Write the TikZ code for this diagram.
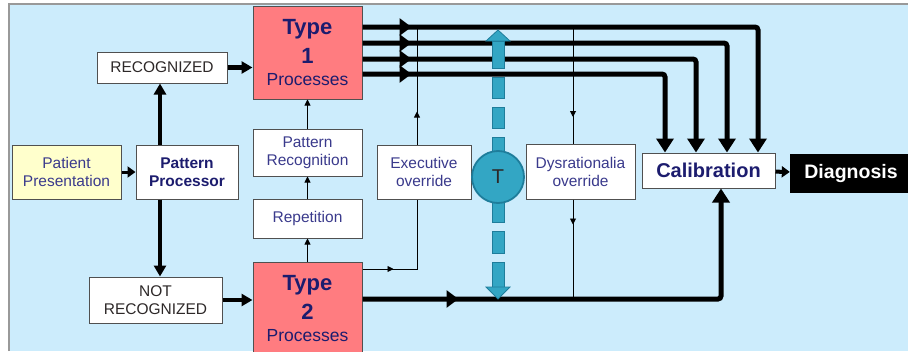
\documentclass[tikz,border=0pt]{standalone}
\usepackage{fontspec}
\setmainfont{Liberation Sans}
\usetikzlibrary{arrows.meta,decorations.markings}
\definecolor{bgblue}{RGB}{204,236,252}
\definecolor{salmon}{RGB}{255,124,128}
\definecolor{tealA}{RGB}{51,166,196}
\definecolor{tealB}{RGB}{30,125,155}
\definecolor{navy}{RGB}{28,28,110}
\definecolor{txtblue}{RGB}{58,58,140}
\definecolor{boxline}{RGB}{80,80,80}
\definecolor{darktxt}{RGB}{45,40,40}
\definecolor{lightyellow}{RGB}{255,255,204}
\tikzset{
  box/.style={draw=boxline, line width=1pt, fill=white, inner sep=0pt, align=center,
    font=\fontsize{15.5}{18}\selectfont, text=txtblue},
  tbox/.style={draw=boxline, line width=1pt, fill=salmon, inner sep=0pt, align=center,
    minimum width=109pt, minimum height=93pt, text=navy,
    font=\fontsize{22}{29}\selectfont\bfseries},
  heavy/.style={line width=5pt, rounded corners=3pt},
  ar/.style={line width=4.5pt, -{Triangle[length=11pt,width=12pt]}},
  thinar/.style={line width=0.9pt, -{Triangle[length=6pt,width=6pt]}},
  thinln/.style={line width=0.9pt},
  midarr/.style 2 args={postaction={decorate},
    decoration={markings, mark=at position #1 with {\arrow{#2}}}},
  tealpart/.style={fill=tealA, draw=tealB, line width=0.8pt}
}
\newcommand{\typetext}[1]{Type\\#1\\[-7pt]{\fontsize{17.5}{20}\selectfont\mdseries Processes}}
\begin{document}
\begin{tikzpicture}[x=1pt,y=-1pt]
\useasboundingbox (0,0) rectangle (908,351);
\clip (0,0) rectangle (908,351);
\fill[white] (0,0) rectangle (908,351);
\fill[bgblue] (9,4) rectangle (908,351);
\draw[gray!80, line width=1.5pt] (9,351) -- (9,4) -- (908,4);

% coordinates
\coordinate (vx) at (160,0);
\coordinate (r1) at (0,27);
\coordinate (r2) at (0,43);
\coordinate (r3) at (0,59);
\coordinate (r4) at (0,74);
\coordinate (rb) at (0,299);
\coordinate (re) at (0,269);
\coordinate (c1) at (758,0);
\coordinate (c2) at (727,0);
\coordinate (c3) at (696,0);
\coordinate (c4) at (665,0);
\coordinate (c5) at (721,0);
\coordinate (ex) at (417,0);
\coordinate (dy) at (573,0);

% nodes
\node[box, fill=lightyellow, minimum width=109pt, minimum height=54pt] (pat) at (66.5,172) {Patient\\Presentation};
\node[box, minimum width=102pt, minimum height=54pt, font=\fontsize{15.5}{18}\selectfont\bfseries, text=navy] (proc) at (187,172) {Pattern\\Processor};
\node[box, minimum width=130pt, minimum height=31pt, text=darktxt] (rec) at (162,67.5) {RECOGNIZED};
\node[box, minimum width=133pt, minimum height=46pt, text=darktxt] (nrec) at (155.5,300) {NOT\\RECOGNIZED};
\node[tbox] (t1) at (307.5,52.5) {\typetext{1}};
\node[tbox] (t2) at (307.5,308.5) {\typetext{2}};
\node[box, minimum width=109pt, minimum height=47pt] (prec) at (307.5,152.5) {Pattern\\Recognition};
\node[box, minimum width=109pt, minimum height=39pt] (rep) at (307.5,218.5) {Repetition};
\node[box, minimum width=94pt, minimum height=54pt] (exec) at (424,172) {Executive\\override};
\node[box, minimum width=109pt, minimum height=55pt] (dys) at (580.5,171.5) {Dysrationalia\\override};
\node[box, minimum width=133pt, minimum height=35pt, font=\fontsize{20}{24}\selectfont\bfseries, text=navy] (cal) at (708.5,170.5) {Calibration};
\node[draw=black, fill=black, text=white, inner sep=0pt, minimum width=122pt, minimum height=38pt,
  font=\fontsize{19.5}{23}\selectfont\bfseries] (diag) at (851,173) {Diagnosis};

% left arrows
\draw[line width=3pt, -{Triangle[length=8pt,width=11pt]}] (pat) -- (proc);
\draw[ar] (vx |- proc.north) -- (vx |- rec.south);
\draw[ar] (vx |- proc.south) -- (vx |- nrec.north);
\draw[ar] (rec) -- (rec -| t1.west);
\draw[ar] (nrec) -- (nrec -| t2.west);
\draw[thinar] (t2.north) -- (rep.south);
\draw[thinar] (rep.north) -- (prec.south);
\draw[thinar] (prec.north) -- (t1.south);

% thin override lines
\draw[thinln, midarr={31pt}{Triangle[length=6pt,width=6pt]}] (t2.east |- re) -- (ex |- re) -- (ex |- exec.south);
\draw[thinln, midarr={33pt}{Triangle[length=6pt,width=6pt]}] (ex |- exec.north) -- (ex |- r1);
\draw[thinln, midarr={90pt}{Triangle[length=6pt,width=6pt]}] (dy |- r1) -- (dy |- dys.north);
\draw[thinln, midarr={25pt}{Triangle[length=6pt,width=6pt]}] (dy |- dys.south) -- (dy |- rb);

% heavy lines from Type 1 to Calibration
\draw[heavy, midarr={49pt}{Triangle[length=12pt,width=17pt]}, -{Triangle[length=14pt,width=17pt]}] (t1.east |- r1) -- (c1 |- r1) -- (c1 |- cal.north);
\draw[heavy, midarr={49pt}{Triangle[length=12pt,width=17pt]}, -{Triangle[length=14pt,width=17pt]}] (t1.east |- r2) -- (c2 |- r2) -- (c2 |- cal.north);
\draw[heavy, midarr={49pt}{Triangle[length=12pt,width=17pt]}, -{Triangle[length=14pt,width=17pt]}] (t1.east |- r3) -- (c3 |- r3) -- (c3 |- cal.north);
\draw[heavy, midarr={49pt}{Triangle[length=12pt,width=17pt]}, -{Triangle[length=14pt,width=17pt]}] (t1.east |- r4) -- (c4 |- r4) -- (c4 |- cal.north);
% heavy line from Type 2
\draw[heavy, midarr={96pt}{Triangle[length=12pt,width=17pt]}, -{Triangle[length=14pt,width=17pt]}] (t2.east |- rb) -- (c5 |- rb) -- (c5 |- cal.south);
\draw[line width=4pt, -{Triangle[length=8pt,width=11pt]}] (cal) -- (diag);

% teal dashed double arrow through T
\foreach \a/\b in {41/68, 77/98, 107/128, 137/152, 202/222, 231/253, 262/287}
  \filldraw[tealpart] (492,\a) rectangle (504,\b);
\filldraw[tealpart] (486,41) -- (498,30) -- (510,41) -- cycle;
\filldraw[tealpart] (486,287) -- (498,299) -- (510,287) -- cycle;
\node[circle, fill=tealA, draw=tealB, line width=1.8pt, minimum size=52pt, inner sep=0pt,
  font=\fontsize{20}{24}\selectfont, text=darktxt] (T) at (498,177) {T};
\end{tikzpicture}
\end{document}
